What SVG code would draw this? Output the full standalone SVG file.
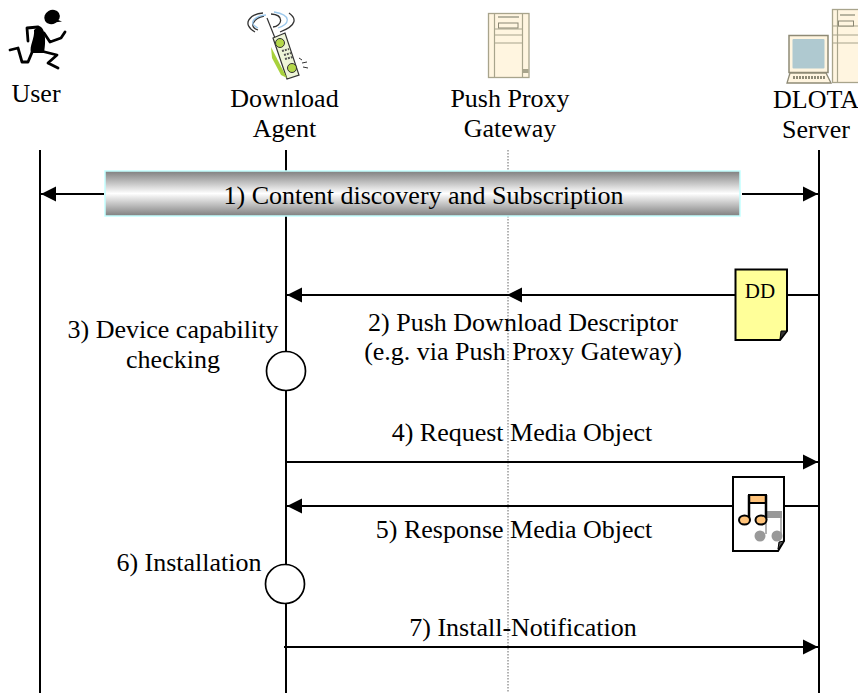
<svg xmlns="http://www.w3.org/2000/svg" width="858" height="693" viewBox="0 0 858 693">
<style>
text{font-family:"Liberation Serif","Times New Roman",serif;font-size:26px;fill:#000;text-anchor:middle}
.life{stroke:#000;stroke-width:2;fill:none}
.conn{stroke:#000;stroke-width:2;fill:none}
.tan{fill:#fff5e0;stroke:#a8a48c;stroke-width:1.3}
.ring{fill:#fff;stroke:#000;stroke-width:1.7}
</style>
<defs>
<marker id="ah" markerUnits="userSpaceOnUse" markerWidth="16" markerHeight="16" refX="15" refY="8" orient="auto"><path d="M0 0.500L15 8L0 15.500Z" fill="#000"/></marker>
<linearGradient id="bar" x1="0" y1="0" x2="0" y2="1"><stop offset="0" stop-color="#7f7f7f"/><stop offset=".5" stop-color="#fff"/><stop offset="1" stop-color="#7f7f7f"/></linearGradient>
</defs>
<g id="connectors">
<path class="life" d="M40 150V693M286 150V693M819 150V693"/>
<path d="M508 150V693" stroke="#666" stroke-width="1" stroke-dasharray="1.500 1.500" fill="none"/>
<path class="conn" d="M104 194H41" marker-end="url(#ah)"/>
<path class="conn" d="M742 194H818" marker-end="url(#ah)"/>
<path class="conn" d="M819 295H507" marker-end="url(#ah)"/>
<path class="conn" d="M520 295H287" marker-end="url(#ah)"/>
<path class="conn" d="M286 462H818" marker-end="url(#ah)"/>
<path class="conn" d="M819 506H287" marker-end="url(#ah)"/>
<path class="conn" d="M284 647H818" marker-end="url(#ah)"/>
</g>
<g id="user">
<g fill="#000"><ellipse cx="52" cy="17" rx="8" ry="7" transform="rotate(-30 52 17)"/><path d="M53 18L62 21.500L54 22.500Z"/><path d="M39 26C46 28 46 42 44 53L31 53C29 46 35 38 34 30Z"/></g>
<path d="M38 27L27 28L28 41M44 33L50 42L61 38L65 32M41 51L57 55L48 63L58 68M33 50L28 62L22 62L18 48L10 50" fill="none" stroke="#000" stroke-width="2.800" stroke-linecap="round" stroke-linejoin="round"/>
<text x="36" y="102">User</text>
</g>
<g id="download-agent">
<path d="M263 13C250 14 241 24 255 32M264 16C254 18 248 27 258 30M289 13C296 18 298 25 280 32M271 14C285 15 282 26 273 27" fill="none" stroke="#333" stroke-width="1.300"/>
<path d="M266 15C255 16 247 23 258 28M274 12C292 15 290 24 278 28" fill="none" stroke="#9cc8ec" stroke-width="1.300"/>
<path d="M267 18L275 38" stroke="#333" stroke-width="1.200" fill="none"/>
<path d="M273 38L285 33L299 75L287 79Z" fill="#eef5d8" stroke="#333" stroke-width="1.200"/>
<path d="M271 47L287 78L281 75L272 58Z" fill="#a8d13c"/>
<circle cx="280" cy="43" r="4.500" fill="#b4d84a" stroke="#333"/><circle cx="292" cy="68" r="4.500" fill="#b4d84a" stroke="#333"/>
<path d="M282 51L289 49M284 55L291 53M285 59L293 57" stroke="#555" stroke-width="2" stroke-dasharray="2 1" fill="none"/>
<path d="M299 58L302 60M302 63L307 62M303 67L308 68" stroke="#333" fill="none"/>
<text x="284.500" y="107">Download</text><text x="284.500" y="137">Agent</text>
</g>
<g id="push-proxy-gateway">
<rect class="tan" x="488.500" y="13.500" width="40.500" height="64"/>
<path d="M494.500 14V77M522.500 14V77M495 29H522M495 35H522M495 43H522" stroke="#a8a48c" stroke-width="1.200" fill="none"/>
<rect x="498" y="16" width="21" height="2" fill="#b8b4a0"/><rect x="498.500" y="23" width="19.500" height="5" fill="#fff5e0" stroke="#8a8672"/>
<rect x="523" y="69" width="5.500" height="4" fill="#a8a48c"/>
<text x="510" y="107">Push Proxy</text><text x="510" y="137">Gateway</text>
</g>
<g id="dlota-server">
<rect class="tan" x="832.500" y="9.500" width="32" height="73"/>
<path d="M837.500 10V82M833 26H858M833 35H858M833 43H858" stroke="#a8a48c" stroke-width="1.200" fill="none"/>
<rect x="840" y="14" width="15" height="2" fill="#b8b4a0"/><rect x="838.500" y="21" width="15" height="5" fill="#fff5e0" stroke="#8a8672"/>
<rect x="789" y="35.500" width="39" height="37" fill="#fff5e0" stroke="#8e8a76" stroke-width="1.500"/>
<rect x="792.500" y="39" width="32" height="29.500" rx="1" fill="#afc9d0"/>
<path d="M790 73H826L831 83H787Z" fill="#fff5e0" stroke="#8e8a76" stroke-width="1.300"/>
<path d="M793 77.500H825" stroke="#8e8a76" stroke-width="3" stroke-dasharray="2 1"/>
<text x="816" y="108">DLOTA</text><text x="816" y="138">Server</text>
</g>
<g id="content-discovery">
<rect x="105" y="171" width="635" height="45" fill="url(#bar)" stroke="#c4ffff" stroke-width="1.500"/>
<text x="423.500" y="204">1) Content discovery and Subscription</text>
</g>
<g id="dd-document">
<path d="M735.500 269.500H787V331L780 340H735.500Z" fill="#ffff99" stroke="#000" stroke-width="2"/>
<path d="M781 331L787 331L780 339Z" fill="#333" stroke="#000"/>
<text x="760" y="298" style="font-size:21px">DD</text>
</g>
<g id="media-document">
<path d="M733 477H784V541L778 551H733Z" fill="#fff" stroke="#000" stroke-width="2"/>
<path d="M779 542L784 541L778 549Z" fill="#555" stroke="#000"/>
<g fill="#999"><path d="M767 511H782V518H767Z"/><path d="M766 514V534M781 514V534" stroke="#999" stroke-width="1.500"/><circle cx="760" cy="536" r="5.500"/><circle cx="777" cy="536" r="5.500"/></g>
<path d="M749 495H766V503H749Z" fill="#ffc37a" stroke="#000" stroke-width="2"/>
<path d="M749 495V520M766 495V520" stroke="#000" stroke-width="2.500" fill="none"/>
<ellipse cx="744.500" cy="520" rx="5.500" ry="4.500" fill="#ffc37a" stroke="#000" stroke-width="2"/><ellipse cx="761" cy="520" rx="5.500" ry="4.500" fill="#ffc37a" stroke="#000" stroke-width="2"/>
</g>
<g id="capability-check">
<circle class="ring" cx="286" cy="371" r="19.500"/>
<text x="173" y="338">3) Device capability</text><text x="173" y="368">checking</text>
</g>
<g id="installation">
<circle class="ring" cx="285" cy="584" r="19.500"/>
<text x="189" y="571">6) Installation</text>
</g>
<g id="labels">
<text x="523" y="331">2) Push Download Descriptor</text>
<text x="523" y="360">(e.g. via Push Proxy Gateway)</text>
<text x="522" y="441">4) Request Media Object</text>
<text x="514" y="538">5) Response Media Object</text>
<text x="523" y="636">7) Install-Notification</text>
</g>
</svg>
